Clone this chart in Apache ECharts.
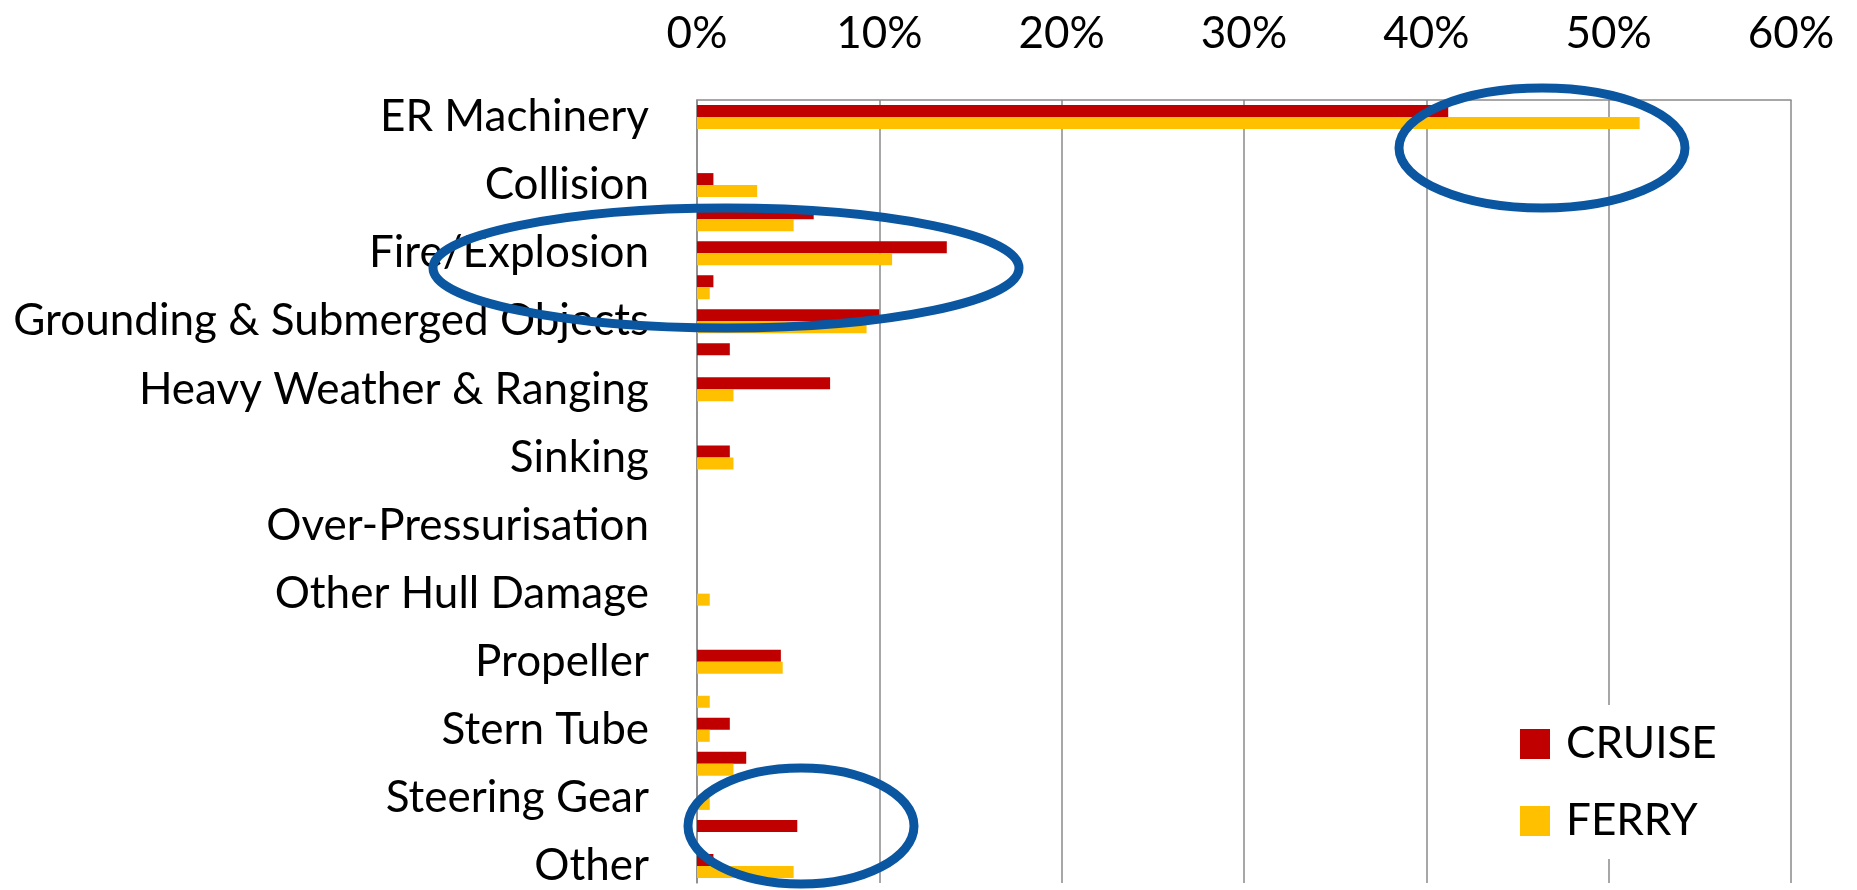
<!DOCTYPE html>
<html>
<head>
<meta charset="utf-8">
<script src="https://cdn.jsdelivr.net/npm/echarts@6/dist/echarts.min.js"></script>
<style>
html,body{margin:0;padding:0;background:#fff;}
#chart{width:1857px;height:890px;}
</style>
</head>
<body>
<div id="chart"></div>
<script>
// Categories (every other one is labelled on the chart; the others are unlabelled rows)
const categories = [
  'ER Machinery', '(row 2)', 'Collision', '(row 4)', 'Fire/Explosion', '(row 6)',
  'Grounding & Submerged Objects', '(row 8)', 'Heavy Weather & Ranging', '(row 10)',
  'Sinking', '(row 12)', 'Over-Pressurisation', '(row 14)', 'Other Hull Damage', '(row 16)',
  'Propeller', '(row 18)', 'Stern Tube', '(row 20)', 'Steering Gear', '(row 22)', 'Other'
];
// Percent values
const cruise = [41.2, 0, 0.9, 6.4, 13.7, 0.9, 10.0, 1.8, 7.3, 0, 1.8, 0, 0, 0, 0, 0, 4.6, 0, 1.8, 2.7, 0, 5.5, 0.9];
const ferry  = [51.7, 0, 3.3, 5.3, 10.7, 0.7, 9.3, 0, 2.0, 0, 2.0, 0, 0, 0, 0.7, 0, 4.7, 0.7, 0.7, 2.0, 0.7, 0, 5.3];
const seriesNames = ['CRUISE', 'FERRY'];
const xTicks = { min: 0, max: 60, interval: 10 };

const FONT = 'Lato';
const gridColor = '#8a8a8a';
const chart = echarts.init(document.getElementById('chart'));
chart.setOption({
  animation: false,
  backgroundColor: '#ffffff',
  textStyle: { fontFamily: FONT },
  grid: { left: 697, right: 66, top: 100, bottom: 7, containLabel: false },
  legend: {
    orient: 'vertical',
    left: 1505, top: 705,
    backgroundColor: '#ffffff',
    padding: [17, 15, 16, 15],
    itemWidth: 30, itemHeight: 30, itemGap: 33,
    icon: 'rect',
    textStyle: { fontFamily: FONT, fontSize: 44, color: '#000', padding: [0, 0, 0, 11] },
    data: seriesNames
  },
  xAxis: {
    type: 'value',
    position: 'top',
    min: xTicks.min, max: xTicks.max, interval: xTicks.interval,
    axisLine: { show: true, lineStyle: { color: gridColor, width: 1.5 } },
    axisTick: { show: false },
    splitLine: { show: true, lineStyle: { color: gridColor, width: 1.5 } },
    axisLabel: { formatter: '{value}%', fontFamily: FONT, fontSize: 44, color: '#000', margin: 44 }
  },
  yAxis: {
    type: 'category',
    inverse: true,
    data: categories,
    axisLine: { show: true, lineStyle: { color: gridColor, width: 1.5 } },
    axisTick: { show: false },
    splitLine: { show: false },
    axisLabel: { interval: 1, fontFamily: FONT, fontSize: 44, color: '#000', margin: 48 }
  },
  series: [
    { name: seriesNames[0], type: 'bar', data: cruise, barWidth: 12, barGap: '0%', itemStyle: { color: '#C00000' } },
    { name: seriesNames[1], type: 'bar', data: ferry, barWidth: 12, barGap: '0%', itemStyle: { color: '#FFC000' } }
  ],
  graphic: [
    { type: 'ellipse', shape: { cx: 1542, cy: 148, rx: 143, ry: 60 }, style: { fill: 'none', stroke: '#0A56A0', lineWidth: 9 }, z: 100 },
    { type: 'ellipse', shape: { cx: 726, cy: 268, rx: 293, ry: 60 }, style: { fill: 'none', stroke: '#0A56A0', lineWidth: 9 }, z: 100 },
    { type: 'ellipse', shape: { cx: 801, cy: 826, rx: 113, ry: 58 }, style: { fill: 'none', stroke: '#0A56A0', lineWidth: 9 }, z: 100 }
  ]
});
</script>
</body>
</html>
